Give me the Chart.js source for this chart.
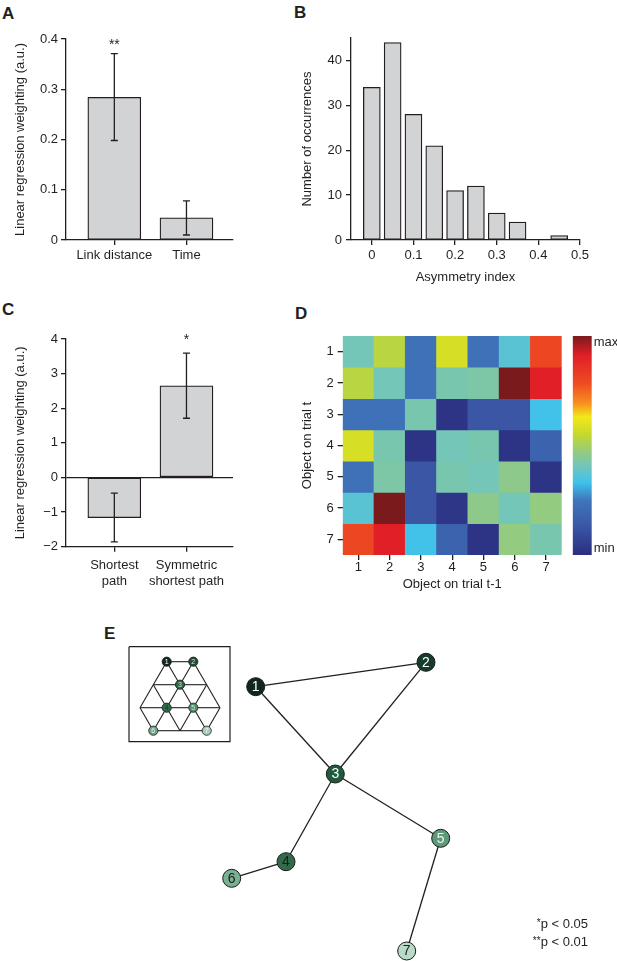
<!DOCTYPE html>
<html lang="en">
<head>
<meta charset="UTF-8">
<title>Object transition analysis</title>
<script src="https://cdn.jsdelivr.net/npm/chart.js@4.4.1/dist/chart.umd.min.js"></script>
<style>
  body { margin: 0; background: #fff; }
  #page { position: relative; width: 617px; height: 961px; font-family: 'Liberation Sans', Arial, sans-serif; color: #231f20; overflow: hidden; }
  #page canvas { position: absolute; }
  .panel-label { position: absolute; font-weight: bold; font-size: 17px; line-height: 1; }
  #footnote { position: absolute; right: 29px; top: 916px; font-size: 13px; line-height: 16.5px; text-align: right; }
  #footnote .star { font-size: 10px; position: relative; top: -2px; }
</style>
</head>
<body>
<div id="page">
  <div class="panel-label" style="left:2px;top:5px">A</div>
  <div class="panel-label" style="left:294px;top:4px">B</div>
  <div class="panel-label" style="left:2px;top:301px">C</div>
  <div class="panel-label" style="left:295px;top:305px">D</div>
  <div class="panel-label" style="left:104px;top:625px">E</div>

  <canvas id="chartA" width="250" height="300" style="left:0;top:0"></canvas>
  <canvas id="chartB" width="327" height="300" style="left:290px;top:0"></canvas>
  <canvas id="chartC" width="260" height="300" style="left:0;top:300px"></canvas>
  <canvas id="chartD" width="327" height="300" style="left:290px;top:300px"></canvas>
  <canvas id="chartBar" width="57" height="300" style="left:560px;top:300px"></canvas>
  <canvas id="chartE" width="517" height="361" style="left:100px;top:600px"></canvas>

  <div id="footnote"><span class="star">*</span>p &lt; 0.05<br><span class="star">**</span>p &lt; 0.01</div>
</div>

<script>
    // Panel A - regression weights
    const aLabels = ['Link distance', 'Time'];
    const aValues = [0.284, 0.044];
    const aErrLow = [0.198, 0.010];
    const aErrHigh = [0.371, 0.078];
    const aStars = ['**', ''];
    const aTicks = [0, 0.1, 0.2, 0.3, 0.4];

    // Panel B - asymmetry histogram
    const bBins = [0, 0.05, 0.1, 0.15, 0.2, 0.25, 0.3, 0.35, 0.4, 0.45];
    const bCounts = [34, 44, 28, 21, 11, 12, 6, 4, 0, 1];
    const bTicksX = [0, 0.1, 0.2, 0.3, 0.4, 0.5];
    const bTicksY = [0, 10, 20, 30, 40];

    // Panel C - path regression weights
    const cLabels = [['Shortest', 'path'], ['Symmetric', 'shortest path']];
    const cValues = [-1.16, 2.65];
    const cErrLow = [-1.86, 1.71];
    const cErrHigh = [-0.45, 3.59];
    const cStars = ['', '*'];
    const cTicks = [-2, -1, 0, 1, 2, 3, 4];

    // Panel D - transition matrix (0 = min, 1 = max), rows = trial t, cols = trial t-1
    const dObjects = ['1', '2', '3', '4', '5', '6', '7'];
    const dMatrix = [
        [0.41, 0.53, 0.23, 0.58, 0.23, 0.37, 0.80],
        [0.53, 0.41, 0.23, 0.42, 0.43, 1.00, 0.91],
        [0.23, 0.23, 0.42, 0.02, 0.13, 0.13, 0.335],
        [0.58, 0.42, 0.02, 0.41, 0.42, 0.02, 0.18],
        [0.23, 0.43, 0.13, 0.42, 0.41, 0.46, 0.02],
        [0.37, 1.00, 0.13, 0.03, 0.46, 0.41, 0.47],
        [0.80, 0.91, 0.335, 0.18, 0.02, 0.47, 0.42]
    ];
    const dStopPos = [0, 0.13, 0.25, 0.33, 0.40, 0.46, 0.55, 0.63, 0.69, 0.78, 0.91, 1];
    const dStopColors = ['#2b2d7f', '#3a56a5', '#3f76bb', '#3ec1ec', '#6fc5c1', '#8dc98a',
                         '#c5d82e', '#f2e918', '#f7931e', '#ef4d23', '#e11f26', '#7b1a1c'];

    // Panel E - recovered graph layout and the true lattice (inset)
    const eNodes = ['1', '2', '3', '4', '5', '6', '7'];
    const eNodeX = [155.7, 326, 235.3, 186, 340.7, 131.7, 306.7];
    const eNodeY = [86.7, 62.3, 174, 261.7, 238.3, 278.3, 351];
    const eNodeColors = ['#0f281d', '#163d2b', '#1f5a3c', '#336b4a', '#5d9a7a', '#7bb193', '#b9dac6'];
    const eNodeText = ['#ffffff', '#ffffff', '#ffffff', '#1d1d1d', '#eef5f0', '#1d1d1d', '#1d1d1d'];
    const eEdges = [[0, 1], [0, 2], [1, 2], [2, 3], [2, 4], [3, 5], [4, 6]];

    const latticeX = [66.7, 93.3, 53.3, 80, 106.7, 40, 66.7, 93.3, 120, 53.3, 80, 106.7];
    const latticeY = [61.7, 61.7, 84.7, 84.7, 84.7, 107.7, 107.7, 107.7, 107.7, 130.7, 130.7, 130.7];
    const latticeEdges = [
        [0, 1], [2, 3], [3, 4], [5, 6], [6, 7], [7, 8], [9, 10], [10, 11],
        [0, 2], [0, 3], [1, 3], [1, 4],
        [2, 5], [2, 6], [3, 6], [3, 7], [4, 7], [4, 8],
        [5, 9], [6, 9], [6, 10], [7, 10], [7, 11], [8, 11]
    ];
    const insetNodeIdx = [0, 1, 3, 6, 7, 9, 11];
    const insetColors = ['#10281e', '#1f4d36', '#2b6547', '#2f6a48', '#4f8d6c', '#6fa689', '#a9cdb8'];
    const insetText = ['#ffffff', '#cfe5d8', '#cfe5d8', '#163b2a', '#cfe5d8', '#e6f2ea', '#f0f7f2'];
    const insetBoxX = [29, 130, 130, 29, 29];
    const insetBoxY = [46.7, 46.7, 141.7, 141.7, 46.7];

    const ink = '#231f20';
    const barFill = '#d1d3d4';
    const fontFamily = "'Liberation Sans', Arial, sans-serif";

    Chart.defaults.font.family = fontFamily;
    Chart.defaults.font.size = 13;
    Chart.defaults.color = ink;
    Chart.defaults.animation = false;
    Chart.defaults.responsive = false;
    Chart.defaults.plugins.legend.display = false;
    Chart.defaults.plugins.tooltip.enabled = false;

    // helpers to pin the axis boxes so the plot areas land where the figure has them
    function fixWidth(w) { return (scale) => { scale.width = w; }; }
    function fixHeight(h) { return (scale) => { scale.height = h; }; }
    function setTicks(values) { return (scale) => { scale.ticks = values.map(v => ({ value: v })); }; }
    const tickGrid = { drawOnChartArea: false, color: ink, lineWidth: 1.3, tickLength: 5, offset: false };
    const axisLine = { color: ink, width: 1.3 };

    function colorAt(v) {
        for (let i = 1; i < dStopPos.length; i++) {
            if (v <= dStopPos[i]) {
                const t = (v - dStopPos[i - 1]) / (dStopPos[i] - dStopPos[i - 1]);
                const c1 = dStopColors[i - 1], c2 = dStopColors[i];
                const mix = (k) => Math.round(parseInt(c1.substr(k, 2), 16) * (1 - t) + parseInt(c2.substr(k, 2), 16) * t);
                return `rgb(${mix(1)}, ${mix(3)}, ${mix(5)})`;
            }
        }
        return dStopColors[dStopColors.length - 1];
    }

    function errorBars(low, high, stars, starOffset) {
        return {
            id: 'errorBars',
            afterDatasetsDraw(chart) {
                const { ctx, scales: { y } } = chart;
                const meta = chart.getDatasetMeta(0);
                ctx.save();
                ctx.strokeStyle = ink;
                ctx.lineWidth = 1.3;
                meta.data.forEach((bar, i) => {
                    const yLo = y.getPixelForValue(low[i]);
                    const yHi = y.getPixelForValue(high[i]);
                    ctx.beginPath();
                    ctx.moveTo(bar.x, yLo); ctx.lineTo(bar.x, yHi);
                    ctx.moveTo(bar.x - 3.5, yLo); ctx.lineTo(bar.x + 3.5, yLo);
                    ctx.moveTo(bar.x - 3.5, yHi); ctx.lineTo(bar.x + 3.5, yHi);
                    ctx.stroke();
                    if (stars[i]) {
                        ctx.fillStyle = ink;
                        ctx.font = `14px ${fontFamily}`;
                        ctx.textAlign = 'center';
                        ctx.textBaseline = 'middle';
                        ctx.fillText(stars[i], bar.x, chart.chartArea.top + starOffset);
                    }
                });
                ctx.restore();
            }
        };
    }

    const nodeLabels = {
        id: 'nodeLabels',
        afterDatasetsDraw(chart) {
            const { ctx } = chart;
            chart.data.datasets.forEach((ds, di) => {
                if (!ds.nodeText) return;
                const meta = chart.getDatasetMeta(di);
                ctx.save();
                ctx.font = `${ds.nodeFont}px ${fontFamily}`;
                ctx.textAlign = 'center';
                ctx.textBaseline = 'middle';
                meta.data.forEach((pt, i) => {
                    ctx.fillStyle = ds.nodeTextColor[i];
                    ctx.fillText(ds.nodeText[i], pt.x, pt.y + 0.5);
                });
                ctx.restore();
            });
        }
    };

    // A
    new Chart(document.getElementById('chartA'), {
        type: 'bar',
        data: {
            datasets: [{
                data: aValues.map((v, i) => ({ x: i + 1, y: v })),
                backgroundColor: barFill, borderColor: ink, borderWidth: 1.3,
                borderSkipped: false, barThickness: 53
            }]
        },
        options: {
            layout: { padding: { top: 39, right: 17, left: 0, bottom: 0 } },
            scales: {
                x: {
                    type: 'linear', min: 0.33, max: 2.645, offset: false,
                    afterBuildTicks: setTicks([1, 2]), afterFit: fixHeight(60),
                    ticks: { callback: (v, i) => aLabels[i], padding: 3, maxRotation: 0, autoSkip: false },
                    grid: tickGrid, border: axisLine
                },
                y: {
                    min: 0, max: 0.4,
                    afterBuildTicks: setTicks(aTicks), afterFit: fixWidth(66),
                    ticks: { callback: v => v === 0 ? '0' : v.toFixed(1), padding: 3 },
                    grid: tickGrid, border: axisLine,
                    title: { display: true, text: 'Linear regression weighting (a.u.)', padding: { top: 13, bottom: 0 } }
                }
            }
        },
        plugins: [errorBars(aErrLow, aErrHigh, aStars, 6.5)]
    });

    // B
    new Chart(document.getElementById('chartB'), {
        type: 'bar',
        data: {
            datasets: [{
                data: bBins.map((b, i) => ({ x: b, y: bCounts[i] })),
                backgroundColor: barFill, borderColor: ink, borderWidth: 1.3,
                borderSkipped: false, barThickness: 17
            }]
        },
        options: {
            layout: { padding: { top: 38, right: 37, left: 0, bottom: 0 } },
            scales: {
                x: {
                    type: 'linear', min: -0.05, max: 0.5, offset: false,
                    afterBuildTicks: setTicks(bTicksX), afterFit: fixHeight(60),
                    ticks: { callback: v => v === 0 ? '0' : v.toFixed(1), padding: 3, maxRotation: 0 },
                    grid: tickGrid, border: axisLine,
                    title: { display: true, text: 'Asymmetry index', padding: { top: 0, bottom: 15 } }
                },
                y: {
                    min: 0, max: 45,
                    afterBuildTicks: setTicks(bTicksY), afterFit: fixWidth(61),
                    ticks: { padding: 4 },
                    grid: tickGrid, border: axisLine,
                    title: { display: true, text: 'Number of occurrences', padding: { top: 10, bottom: 0 } }
                }
            }
        }
    });

    // C
    new Chart(document.getElementById('chartC'), {
        type: 'bar',
        data: {
            datasets: [{
                data: cValues.map((v, i) => ({ x: i + 1, y: v })),
                backgroundColor: barFill, borderColor: ink, borderWidth: 1.3,
                borderSkipped: false, barThickness: 53
            }]
        },
        options: {
            layout: { padding: { top: 39, right: 27, left: 0, bottom: 0 } },
            scales: {
                x: {
                    type: 'linear', min: 0.33, max: 2.645, offset: false,
                    afterBuildTicks: setTicks([1, 2]), afterFit: fixHeight(53.3),
                    ticks: { callback: (v, i) => cLabels[i], padding: 6, maxRotation: 0, autoSkip: false },
                    grid: tickGrid, border: axisLine
                },
                y: {
                    min: -2, max: 4,
                    afterBuildTicks: setTicks(cTicks), afterFit: fixWidth(66),
                    ticks: { callback: v => v < 0 ? '\u2212' + Math.abs(v) : String(v), padding: 3 },
                    grid: {
                        drawOnChartArea: true, tickLength: 5, lineWidth: 1.3, tickColor: ink,
                        color: (ctx) => ctx.tick && ctx.tick.value === 0 ? ink : 'rgba(0,0,0,0)'
                    },
                    border: axisLine,
                    title: { display: true, text: 'Linear regression weighting (a.u.)', padding: { top: 13, bottom: 0 } }
                }
            }
        },
        plugins: [errorBars(cErrLow, cErrHigh, cStars, 1)]
    });

    // D - heatmap as floating bars, one dataset per row
    new Chart(document.getElementById('chartD'), {
        type: 'bar',
        data: {
            labels: dObjects,
            datasets: dMatrix.map((row, r) => ({
                data: row.map(() => [r + 0.5, r + 1.5]),
                backgroundColor: row.map(v => colorAt(v)),
                borderWidth: 0,
                barPercentage: 1,
                categoryPercentage: 1,
                grouped: false
            }))
        },
        options: {
            layout: { padding: { top: 36, right: 55.3, left: 0, bottom: 0 } },
            scales: {
                x: {
                    afterFit: fixHeight(45),
                    ticks: { padding: 0, maxRotation: 0 },
                    grid: tickGrid, border: { display: false },
                    title: { display: true, text: 'Object on trial t-1', padding: { top: 0, bottom: 8 } }
                },
                y: {
                    type: 'linear', min: 0.5, max: 7.5, reverse: true,
                    afterBuildTicks: setTicks(dObjects.map((_, i) => i + 1)), afterFit: fixWidth(52.7),
                    ticks: { callback: (v, i) => dObjects[i], padding: 4 },
                    grid: tickGrid, border: { display: false },
                    title: { display: true, text: 'Object on trial t', padding: { top: 10, bottom: 0 } }
                }
            }
        }
    });

    // D - colour bar
    new Chart(document.getElementById('chartBar'), {
        type: 'bar',
        data: {
            labels: ['scale'],
            datasets: [{
                data: [[0, 1]],
                borderWidth: 0,
                barPercentage: 1,
                categoryPercentage: 1,
                backgroundColor: (ctx) => {
                    const area = ctx.chart.chartArea;
                    if (!area) return dStopColors[0];
                    const g = ctx.chart.ctx.createLinearGradient(0, area.bottom, 0, area.top);
                    dStopPos.forEach((p, i) => g.addColorStop(p, dStopColors[i]));
                    return g;
                }
            }]
        },
        options: {
            layout: { padding: { top: 36, right: 0, left: 12.7, bottom: 45 } },
            scales: {
                x: { display: false },
                y: {
                    position: 'right', min: 0, max: 1,
                    afterBuildTicks: setTicks([0.03, 0.97]), afterFit: fixWidth(25.3),
                    ticks: { callback: v => v > 0.5 ? 'max' : 'min', padding: 2 },
                    grid: { display: false, drawTicks: false }, border: { display: false }
                }
            }
        }
    });

    // E - graph drawn on a linear x/y plane
    const edgeSet = (xs, ys, pairs, width) => pairs.map(([a, b]) => ({
        data: [{ x: xs[a], y: ys[a] }, { x: xs[b], y: ys[b] }],
        showLine: true, borderColor: ink, borderWidth: width, pointRadius: 0, clip: false, order: 2
    }));

    new Chart(document.getElementById('chartE'), {
        type: 'scatter',
        data: {
            datasets: [
                {
                    data: eNodeX.map((x, i) => ({ x, y: eNodeY[i] })),
                    pointRadius: 9, pointBackgroundColor: eNodeColors,
                    pointBorderColor: '#1a1a1a', pointBorderWidth: 1, clip: false, order: 0,
                    nodeText: eNodes, nodeTextColor: eNodeText, nodeFont: 14
                },
                {
                    data: insetNodeIdx.map(k => ({ x: latticeX[k], y: latticeY[k] })),
                    pointRadius: 4.6, pointBackgroundColor: insetColors,
                    pointBorderColor: '#1a1a1a', pointBorderWidth: 0.8, clip: false, order: 0,
                    nodeText: eNodes, nodeTextColor: insetText, nodeFont: 7
                },
                ...edgeSet(eNodeX, eNodeY, eEdges, 1.3),
                ...edgeSet(latticeX, latticeY, latticeEdges, 1.1),
                {
                    data: insetBoxX.map((x, i) => ({ x, y: insetBoxY[i] })),
                    showLine: true, borderColor: ink, borderWidth: 1.2, pointRadius: 0, clip: false, order: 3
                }
            ]
        },
        options: {
            layout: { padding: 0, autoPadding: false },
            scales: {
                x: { type: 'linear', min: 0, max: 517, display: false },
                y: { type: 'linear', min: 0, max: 361, reverse: true, display: false }
            }
        },
        plugins: [nodeLabels]
    });
</script>
</body>
</html>
